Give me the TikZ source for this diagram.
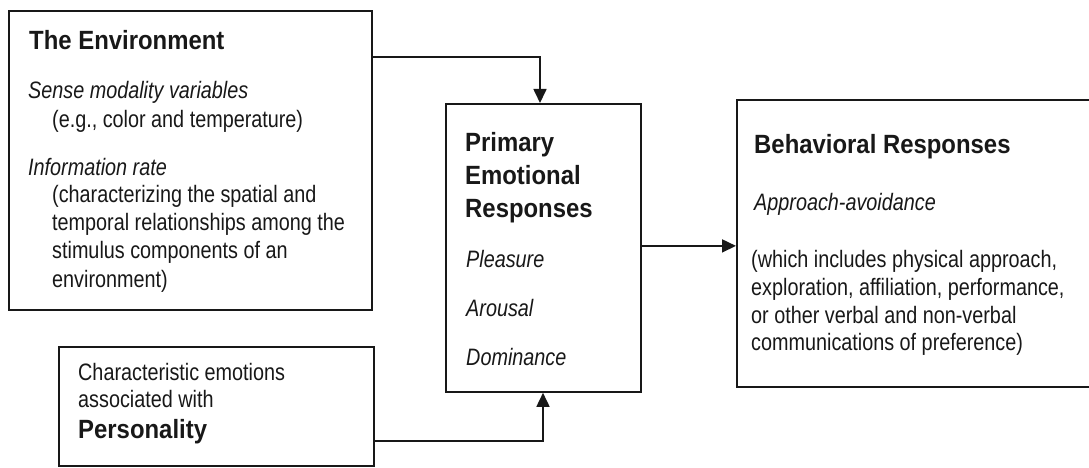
\documentclass[tikz,border=0pt]{standalone}
\usepackage{fontspec}
\setmainfont{Liberation Sans}
\usetikzlibrary{arrows.meta}
\definecolor{ink}{HTML}{181818}
\begin{document}
\begin{tikzpicture}[x=1pt,y=-1pt,
  panel/.style={draw=ink, line width=1.8pt, inner sep=0pt, anchor=north west},
  txt/.style={inner sep=0pt, anchor=base west, text=ink, yscale=1.2, font=\fontsize{19.8}{24}\selectfont},
  itx/.style={txt, font=\fontsize{19.8}{24}\selectfont\itshape},
  head/.style={txt, yscale=0.92, font=\fontsize{23.9}{29}\selectfont\bfseries},
  link/.style={draw=ink, line width=1.7pt, -{Triangle[length=14pt,width=13pt]}}]
\useasboundingbox (0,0) rectangle (1089,468);

% boxes
\node[panel, minimum width=363pt, minimum height=299pt] (env) at (8,10) {};
\node[panel, minimum width=315pt, minimum height=119pt] (pers) at (58,346) {};
\node[panel, minimum width=195pt, minimum height=288pt] (prim) at (445,103) {};
\node[panel, minimum width=356pt, minimum height=287pt] (beh) at (736,99) {};

% the environment
\node[head] (envh) at (29,50) {The Environment};
\node[itx] (env1) at (28,99) {Sense modality variables};
\node[txt] (env2) at (52,128) {(e.g., color and temperature)};
\node[itx] (env3) at (28,175) {Information rate};
\node[txt] (env4) at (52,202) {(characterizing the spatial and};
\node[txt] (env5) at (52,230) {temporal relationships among the};
\node[txt] (env6) at (52,258) {stimulus components of an};
\node[txt] (env7) at (52,287) {environment)};

% personality
\node[txt] (pers1) at (78,380) {Characteristic emotions};
\node[txt] (pers2) at (78,407) {associated with};
\node[head] (persh) at (78,438) {Personality};

% primary emotional responses
\node[head] (prim1) at (465,151) {Primary};
\node[head] (prim2) at (465,184) {Emotional};
\node[head] (prim3) at (465,217) {Responses};
\node[itx] (prim4) at (466,267) {Pleasure};
\node[itx] (prim5) at (466,316) {Arousal};
\node[itx] (prim6) at (466,365) {Dominance};

% behavioral responses
\node[head] (behh) at (754,153) {Behavioral Responses};
\node[itx] (beh1) at (754,210) {Approach-avoidance};
\node[txt] (beh2) at (751,267) {(which includes physical approach,};
\node[txt] (beh3) at (751,295) {exploration, affiliation, performance,};
\node[txt] (beh4) at (751,323) {or other verbal and non-verbal};
\node[txt] (beh5) at (751,350) {communications of preference)};

% connectors
\draw[link] ([yshift=-47pt]env.north east) -| ([xshift=95pt]prim.north west);
\draw[link] ([yshift=2pt]prim.east) -- ([yshift=2pt]prim.east -| beh.west);
\draw[link] ([yshift=-95pt]pers.north east) -| ([xshift=98pt]prim.south west);
\end{tikzpicture}
\end{document}
